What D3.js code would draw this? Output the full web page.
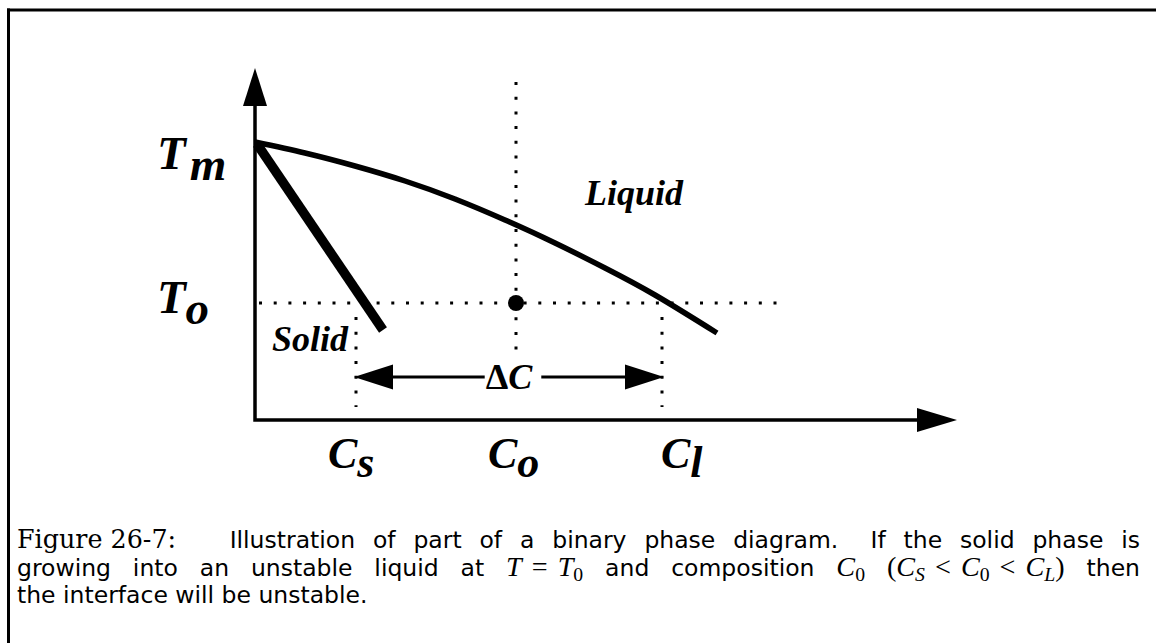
<!DOCTYPE html>
<html>
<head>
<meta charset="utf-8">
<script src="https://cdn.jsdelivr.net/npm/d3@7"></script>
<style>
  html, body { margin: 0; padding: 0; background: #fff; }
  svg { display: block; }
</style>
</head>
<body>
<svg id="fig" width="1156" height="643"></svg>
<script>
// Liquidus curve: composition vs temperature (arbitrary units)
const liquidusC = [0.00, 0.50, 1.00, 1.50, 2.00, 2.50, 3.00, 3.50, 4.00, 4.62];
const liquidusT = [2.78, 2.67, 2.54, 2.39, 2.21, 2.00, 1.77, 1.52, 1.25, 0.87];
// Solidus line
const solidusC = [0.02, 1.28];
const solidusT = [2.76, 0.90];
// Reference temperatures and compositions
const tempNames = ["m", "o"];
const tempValues = [2.78, 1.17];
const compNames = ["s", "o", "l"];
const compValues = [1.01, 2.61, 4.07];
// Where each composition label sits along the axis
const compLabelAt = [0.97, 2.57, 4.30];
// Region labels
const regionNames = ["Solid", "Liquid"];
const regionC = [0.17, 3.30];
const regionT = [0.69, 2.15];
// Extent of the dotted guide lines
const tempGuideEnd = 5.27;
const compGuideTop = [1.17, 3.38, 1.17];
const compGuideBottom = [0.13, 0.70, 0.13];
const deltaArrowT = 0.43;

const svg = d3.select("#fig");
const x = d3.scaleLinear().domain([0, 7.02]).range([255, 957]);
const y = d3.scaleLinear().domain([0, 3.52]).range([420, 68]);

const serifBI = "'Liberation Serif', 'Times New Roman', serif";

// Frame (top and left rules)
svg.append("line").attr("x1", 7).attr("x2", 1156).attr("y1", 10).attr("y2", 10)
  .attr("stroke", "#000").attr("stroke-width", 3);
svg.append("line").attr("x1", 8.5).attr("x2", 8.5).attr("y1", 8.5).attr("y2", 643)
  .attr("stroke", "#000").attr("stroke-width", 3);

// Dotted guides
const dots = svg.append("g").attr("stroke", "#000").attr("stroke-width", 3)
  .attr("stroke-dasharray", "3 11.7").attr("fill", "none");
dots.append("line")
  .attr("x1", x(0) + 4).attr("x2", x(tempGuideEnd))
  .attr("y1", y(tempValues[1])).attr("y2", y(tempValues[1]));
compValues.forEach((c, i) => {
  dots.append("line")
    .attr("x1", x(c)).attr("x2", x(c))
    .attr("y1", y(compGuideTop[i]) + (i === 1 ? 0 : 14)).attr("y2", y(compGuideBottom[i]));
});

// Axes with arrowheads
const axes = svg.append("g");
axes.append("path")
  .attr("d", `M${x(0)},${y.range()[1] + 36} V${y(0)} H${x.range()[1] - 38}`)
  .attr("fill", "none").attr("stroke", "#000").attr("stroke-width", 3.5)
  .attr("stroke-linejoin", "miter");
axes.append("path")
  .attr("d", `M${x(0) - 12},${y.range()[1] + 38} L${x(0)},${y.range()[1]} L${x(0) + 12},${y.range()[1] + 38} Z`)
  .attr("fill", "#000");
axes.append("path")
  .attr("d", `M${x.range()[1] - 40},${y(0) - 12} L${x.range()[1]},${y(0)} L${x.range()[1] - 40},${y(0) + 12} Z`)
  .attr("fill", "#000");

// Liquidus and solidus
const liq = liquidusC.map((c, i) => [c, liquidusT[i]]);
const sol = solidusC.map((c, i) => [c, solidusT[i]]);
const lineGen = d3.line().x(d => x(d[0])).y(d => y(d[1])).curve(d3.curveNatural);
svg.append("path").attr("d", lineGen(liq))
  .attr("fill", "none").attr("stroke", "#000").attr("stroke-width", 5.5);
svg.append("path").attr("d", d3.line().x(d => x(d[0])).y(d => y(d[1]))(sol))
  .attr("fill", "none").attr("stroke", "#000").attr("stroke-width", 9.5);

// Operating point
svg.append("circle").attr("cx", x(compValues[1])).attr("cy", y(tempValues[1])).attr("r", 8)
  .attr("fill", "#000");

// Labels with a lowered second letter
function subLabel(px, py, main, sub, size, drop, gap) {
  const t = svg.append("text").attr("x", px).attr("y", py)
    .attr("font-family", serifBI).attr("font-weight", "bold").attr("font-style", "italic")
    .attr("font-size", size).attr("fill", "#000");
  t.append("tspan").text(main);
  t.append("tspan").attr("dx", gap).attr("dy", drop).text(sub);
  return t;
}
const tempLabelDrop = [27, 10];
tempValues.forEach((tv, i) => {
  subLabel(157, y(tv) + tempLabelDrop[i], "T", tempNames[i], 47, 11, 4);
});
compValues.forEach((c, i) => {
  subLabel(x(compLabelAt[i]) - 24, 468, "C", compNames[i], 44, 9, 0);
});

// Region labels
regionNames.forEach((name, i) => {
  svg.append("text").attr("x", x(regionC[i])).attr("y", y(regionT[i]))
    .attr("font-family", serifBI).attr("font-weight", "bold").attr("font-style", "italic")
    .attr("font-size", 36).text(name);
});

// Composition difference arrow
const yA = y(deltaArrowT);
const xs = x(compValues[0]), xl = x(compValues[2]);
const dc = svg.append("text").attr("x", (xs + xl) / 2).attr("y", yA + 12)
  .attr("text-anchor", "middle").attr("font-family", serifBI).attr("font-size", 36)
  .attr("font-weight", "bold");
dc.append("tspan").text("\u0394");
dc.append("tspan").attr("font-style", "italic").text("C");
const bb = dc.node().getBBox();
const arr = svg.append("g");
arr.append("line").attr("x1", xs + 30).attr("x2", bb.x - 1).attr("y1", yA).attr("y2", yA)
  .attr("stroke", "#000").attr("stroke-width", 3);
arr.append("line").attr("x1", bb.x + bb.width + 8).attr("x2", xl - 30).attr("y1", yA).attr("y2", yA)
  .attr("stroke", "#000").attr("stroke-width", 3);
arr.append("path").attr("d", `M${xs - 2},${yA} L${xs + 37},${yA - 12.5} L${xs + 37},${yA + 12.5} Z`).attr("fill", "#000");
arr.append("path").attr("d", `M${xl + 2},${yA} L${xl - 37},${yA - 12.5} L${xl - 37},${yA + 12.5} Z`).attr("fill", "#000");

// Caption
const capSize = 23.5;
const fonts = {
  rm: { family: "'DejaVu Serif', serif", style: "normal", scale: 1.08 },
  ss: { family: "'DejaVu Sans', sans-serif", style: "normal", scale: 1.0 },
  mi: { family: "'Liberation Serif', serif", style: "italic", scale: 1.2 },
  mr: { family: "'Liberation Serif', serif", style: "normal", scale: 1.2 }
};
// Each word: list of [fontKey, text, isSubscript, leading gap in px]
const captionLine1 = [
  { w: [["rm", "Figure 26-7:"]], gap: 0 },
  { w: [["ss", "Illustration"]], gap: 3 },
  { w: [["ss", "of"]], gap: 1 }, { w: [["ss", "part"]], gap: 1 }, { w: [["ss", "of"]], gap: 1 },
  { w: [["ss", "a"]], gap: 1 }, { w: [["ss", "binary"]], gap: 1 }, { w: [["ss", "phase"]], gap: 1 },
  { w: [["ss", "diagram."]], gap: 1 }, { w: [["ss", "If"]], gap: 1.8 }, { w: [["ss", "the"]], gap: 1 },
  { w: [["ss", "solid"]], gap: 1 }, { w: [["ss", "phase"]], gap: 1 }, { w: [["ss", "is"]], gap: 1 }
];
const captionLine2 = [
  { w: [["ss", "growing"]], gap: 0 }, { w: [["ss", "into"]], gap: 1 }, { w: [["ss", "an"]], gap: 1 },
  { w: [["ss", "unstable"]], gap: 1 }, { w: [["ss", "liquid"]], gap: 1 }, { w: [["ss", "at"]], gap: 1 },
  { w: [["mi", "T"], ["mr", "=", false, 10], ["mi", "T", false, 10], ["mr", "0", true]], gap: 1 },
  { w: [["ss", "and"]], gap: 1 }, { w: [["ss", "composition"]], gap: 1 },
  { w: [["mi", "C"], ["mr", "0", true]], gap: 1 },
  { w: [["mr", "("], ["mi", "C"], ["mi", "S", true], ["mr", "<", false, 10], ["mi", "C", false, 10], ["mr", "0", true],
        ["mr", "<", false, 10], ["mi", "C", false, 10], ["mi", "L", true], ["mr", ")"]], gap: 1 },
  { w: [["ss", "then"]], gap: 1 }
];
const captionLine3 = [
  { w: [["ss", "the interface will be unstable."]], gap: 0 }
];

const capLeft = 17, capRight = 1140;
function makeWord(g, segs, baseline) {
  const t = g.append("text").attr("x", 0).attr("y", baseline).attr("font-size", capSize).attr("fill", "#000");
  let lowered = false;
  segs.forEach(([fk, txt, isSub, lead]) => {
    const f = fonts[fk];
    const s = t.append("tspan").attr("font-family", f.family)
      .attr("font-style", f.style).attr("font-size", capSize * f.scale * (isSub ? 0.7 : 1)).text(txt);
    if (lead) s.attr("dx", lead);
    if (isSub && !lowered) { s.attr("dy", 5); lowered = true; }
    else if (!isSub && lowered) { s.attr("dy", -5); lowered = false; }
  });
  return t;
}
// Advance width of a word, including explicit shifts between its pieces
function advance(node) {
  const n = node.getNumberOfChars();
  return n === 0 ? 0 : node.getEndPositionOfChar(n - 1).x;
}
function setLine(words, baseline, justify) {
  const g = svg.append("g");
  const nodes = words.map(wd => makeWord(g, wd.w, baseline));
  const widths = nodes.map(n => advance(n.node()));
  const total = d3.sum(widths);
  const weights = d3.sum(words, wd => wd.gap);
  const unit = justify ? (capRight - capLeft - total) / weights : 0;
  let cx = capLeft;
  nodes.forEach((n, i) => {
    cx += words[i].gap * unit;
    n.attr("transform", `translate(${cx},0)`);
    cx += widths[i];
  });
}
setLine(captionLine1, 548, true);
setLine(captionLine2, 576, true);
setLine(captionLine3, 603, false);
</script>
</body>
</html>
